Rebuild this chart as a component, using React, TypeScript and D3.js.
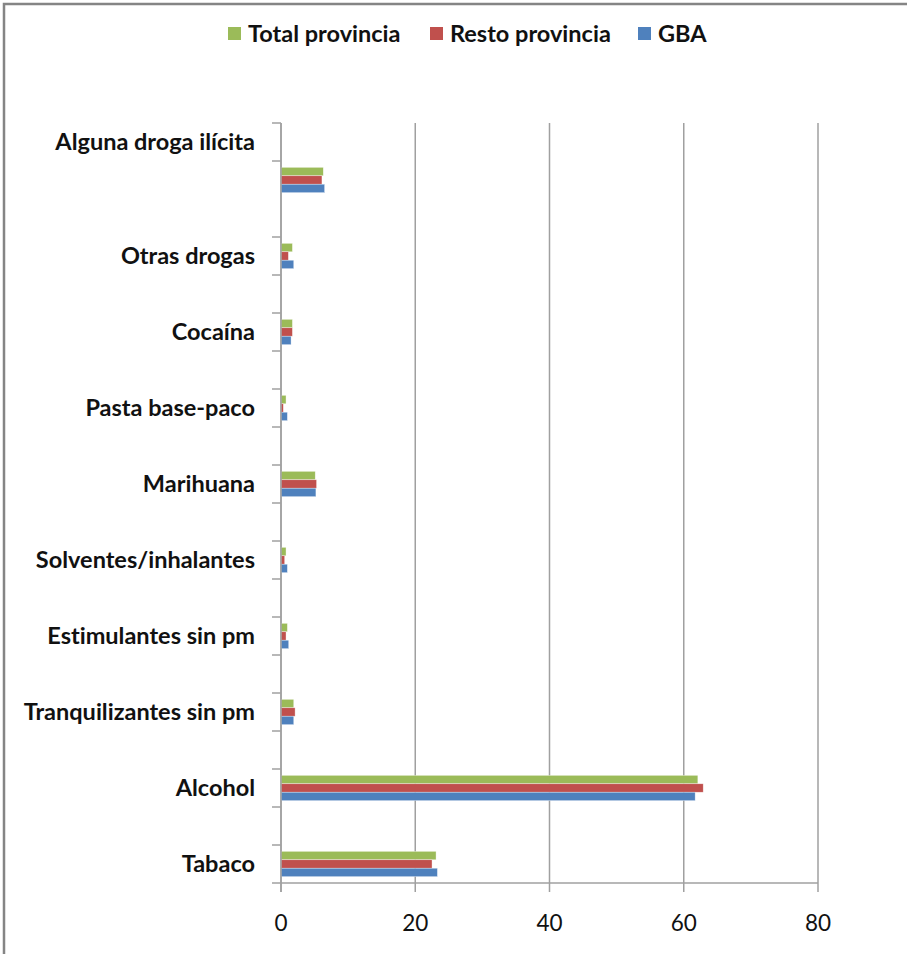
import React, { useEffect, useRef } from 'react';
import * as d3 from 'd3';

// categories from top to bottom (empty rows are spacer rows in the source sheet)
const categories = [
  'Alguna droga ilícita', '', '', 'Otras drogas', '', 'Cocaína', '', 'Pasta base-paco', '',
  'Marihuana', '', 'Solventes/inhalantes', '', 'Estimulantes sin pm', '',
  'Tranquilizantes sin pm', '', 'Alcohol', '', 'Tabaco',
];
const gba = [null, 6.5, null, 1.9, null, 1.5, null, 0.95, null, 5.2, null, 0.95, null, 1.15, null, 1.9, null, 61.7, null, 23.3];
const resto = [null, 6.1, null, 1.1, null, 1.7, null, 0.35, null, 5.3, null, 0.55, null, 0.75, null, 2.1, null, 62.9, null, 22.5];
const total = [null, 6.3, null, 1.7, null, 1.7, null, 0.75, null, 5.1, null, 0.75, null, 0.95, null, 1.9, null, 62.1, null, 23.1];
const xTicks = [0, 20, 40, 60, 80];

const series = [
  { name: 'Total provincia', values: total, color: '#9BBB59' },
  { name: 'Resto provincia', values: resto, color: '#C0504D' },
  { name: 'GBA', values: gba, color: '#4F81BD' },
];

const W = 907;
const H = 954;
const FONT = 'Lato, "Open Sans", sans-serif';

export default function App() {
  const svgRef = useRef<SVGSVGElement>(null);

  useEffect(() => {
    const svg = d3.select(svgRef.current);
    svg.selectAll('*').remove();

    const left = 281;
    const right = 818;
    const top = 123;
    const bottom = 883;
    const grid = '#a0a0a0';

    svg.append('rect').attr('width', W).attr('height', H).attr('fill', '#fff');

    // outer frame (only top and left are visible in the crop)
    svg.append('path')
      .attr('d', `M4,${H} V4 H${W}`)
      .attr('fill', 'none')
      .attr('stroke', '#858585')
      .attr('stroke-width', 2.5);

    const x = d3.scaleLinear().domain([0, 80]).range([left, right]);
    const y = d3.scaleBand<number>()
      .domain(d3.range(categories.length))
      .range([top, bottom]);
    // Excel gap width 50%: group takes 2/3 of the band
    const inner = d3.scaleBand<number>()
      .domain(d3.range(series.length))
      .range([0, y.bandwidth()])
      .paddingOuter(0.75);

    // vertical gridlines + ticks below the axis
    xTicks.forEach((t) => {
      svg.append('line')
        .attr('x1', x(t)).attr('x2', x(t))
        .attr('y1', top).attr('y2', bottom + 9)
        .attr('stroke', grid).attr('stroke-width', 1.5);
      svg.append('text')
        .attr('x', x(t)).attr('y', bottom + 48)
        .attr('text-anchor', 'middle')
        .style('font-family', FONT).style('font-size', '22.5px').style('fill', '#111')
        .text(t);
    });

    // horizontal axis
    svg.append('line')
      .attr('x1', left).attr('x2', right)
      .attr('y1', bottom).attr('y2', bottom)
      .attr('stroke', grid).attr('stroke-width', 1.5);

    // category ticks (the source chart has none at the third boundary)
    const boundaries = d3.range(categories.length + 1).filter((i) => i !== 2);
    boundaries.forEach((i) => {
      const yy = top + i * y.step();
      svg.append('line')
        .attr('x1', left - 9).attr('x2', left)
        .attr('y1', yy).attr('y2', yy)
        .attr('stroke', grid).attr('stroke-width', 1.5);
    });

    // bars
    series.forEach((s, si) => {
      svg.append('g')
        .selectAll('rect')
        .data(s.values.map((v, i) => ({ v, i })).filter((d) => d.v != null))
        .enter()
        .append('rect')
        .attr('x', x(0))
        .attr('y', (d) => (y(d.i) as number) + (inner(si) as number))
        .attr('width', (d) => x(d.v as number) - x(0))
        .attr('height', inner.bandwidth())
        .attr('fill', s.color)
        .attr('stroke', 'rgba(255,255,255,0.6)')
        .attr('stroke-width', 0.6);
    });

    // category labels
    svg.append('g')
      .selectAll('text')
      .data(categories.map((c, i) => ({ c, i })).filter((d) => d.c))
      .enter()
      .append('text')
      .attr('x', 255)
      .attr('y', (d) => (y(d.i) as number) + y.bandwidth() / 2)
      .attr('dy', '0.35em')
      .attr('text-anchor', 'end')
      .style('font-family', FONT).style('font-size', '23.5px').style('font-weight', 'bold')
      .style('font-variant-ligatures', 'none')
      .style('fill', '#111')
      .text((d) => d.c);

    // y axis line
    svg.append('line')
      .attr('x1', left).attr('x2', left)
      .attr('y1', top).attr('y2', bottom + 9)
      .attr('stroke', grid).attr('stroke-width', 1.5);

    // legend
    const legendX = [228, 430, 638];
    series.forEach((s, i) => {
      svg.append('rect')
        .attr('x', legendX[i]).attr('y', 27)
        .attr('width', 13).attr('height', 13)
        .attr('fill', s.color);
      svg.append('text')
        .attr('x', legendX[i] + 20).attr('y', 42)
        .style('font-family', FONT).style('font-size', '23.5px').style('font-weight', 'bold')
        .style('font-variant-ligatures', 'none')
        .style('fill', '#111')
        .text(s.name);
    });
  }, []);

  return (
    <svg
      ref={svgRef}
      width={W}
      height={H}
      style={{ position: 'absolute', left: 0, top: 0 }}
    />
  );
}
